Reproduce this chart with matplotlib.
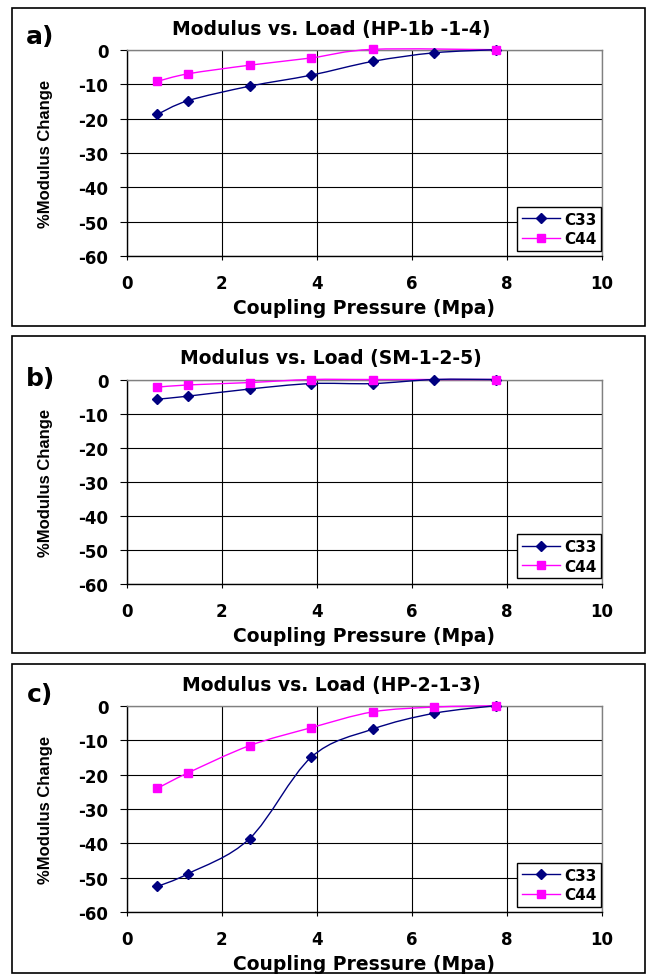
import numpy as np
import matplotlib
matplotlib.use('Agg')
import matplotlib.pyplot as plt
from matplotlib.path import Path
from matplotlib.patches import PathPatch, Rectangle
from matplotlib.lines import Line2D

# ---------------- data ----------------
pressure = [0.647, 1.294, 2.588, 3.882, 5.176, 6.47, 7.765]
pressure_c44_ab = [0.647, 1.294, 2.588, 3.882, 5.176, 7.765]

a_c33 = [-18.8, -14.8, -10.6, -7.4, -3.4, -0.9, 0.0]
a_c44 = [-9.2, -7.0, -4.5, -2.4, 0.1, 0.0]
b_c33 = [-5.8, -4.9, -2.8, -1.2, -1.2, 0.0, 0.0]
b_c44 = [-2.25, -1.6, -0.9, 0.0, 0.0, 0.0]
c_c33 = [-52.5, -48.8, -38.6, -15.0, -6.8, -2.2, 0.0]
c_c44 = [-24.0, -19.5, -11.6, -6.4, -1.8, -0.4, 0.0]

titles = ['Modulus vs. Load (HP-1b -1-4)', 'Modulus vs. Load (SM-1-2-5)',
          'Modulus vs. Load (HP-2-1-3)']
panel_labels = ['a)', 'b)', 'c)']
series_names = ['C33', 'C44']
x_ticks = [0, 2, 4, 6, 8, 10]
y_ticks = [-60, -50, -40, -30, -20, -10, 0]
x_label = 'Coupling Pressure (Mpa)'
y_label = '%Modulus Change'

panels = [
    (pressure, a_c33, pressure_c44_ab, a_c44),
    (pressure, b_c33, pressure_c44_ab, b_c44),
    (pressure, c_c33, pressure, c_c44),
]

# ---------------- style ----------------
W, H = 649, 978
C33_COLOR = '#000080'
C44_COLOR = '#FF00FF'
BOLD = dict(family='DejaVu Sans', weight='bold')

# geometry in pixels (top-left origin)
ax_left, ax_right = 126.5, 602.0
ax_rows = [(50.7, 257.3), (380.5, 584.5), (706.7, 913.3)]
box_rows = [(9, 327), (337, 654), (665, 974)]
title_y = [30, 359, 686]
label_y = [37, 379, 695]


def fx(px):
    return px / W


def fy(py):
    return 1 - py / H


def smooth_path(x, y):
    pts = np.column_stack([x, y]).astype(float)
    n = len(pts)
    verts = [pts[0]]
    codes = [Path.MOVETO]
    for i in range(n - 1):
        p0 = pts[i - 1] if i > 0 else pts[i]
        p1 = pts[i]
        p2 = pts[i + 1]
        p3 = pts[i + 2] if i + 2 < n else pts[i + 1]
        c1 = p1 + (p2 - p0) / 6.0
        c2 = p2 - (p3 - p1) / 6.0
        verts += [c1, c2, p2]
        codes += [Path.CURVE4] * 3
    return Path(verts, codes)


fig = plt.figure(figsize=(W / 100, H / 100), dpi=100)
fig.patch.set_facecolor('white')

for k, (x33, y33, x44, y44) in enumerate(panels):
    top, bot = ax_rows[k]
    ax = fig.add_axes([fx(ax_left), fy(bot), fx(ax_right - ax_left), (bot - top) / H])
    ax.set_xlim(0, 10)
    ax.set_ylim(-60, 0)
    ax.set_xticks(x_ticks)
    ax.set_yticks(y_ticks)
    ax.set_xticklabels([str(v) for v in x_ticks], fontsize=12, **BOLD)
    ax.set_yticklabels([str(v) for v in y_ticks], fontsize=12, **BOLD)
    ax.tick_params(axis='y', direction='out', length=5, width=0.8, pad=8, colors='black')
    ax.tick_params(axis='x', direction='out', length=3, width=0.8, pad=10, colors='black')
    ax.set_axisbelow(True)
    ax.grid(True, color='black', linewidth=0.8)
    for side in ('top', 'right'):
        ax.spines[side].set_color('#808080')
        ax.spines[side].set_linewidth(1.0)
    for side in ('left', 'bottom'):
        ax.spines[side].set_color('black')
        ax.spines[side].set_linewidth(1.0)

    # smoothed lines
    for xs, ys, col in ((x44, y44, C44_COLOR), (x33, y33, C33_COLOR)):
        patch = PathPatch(smooth_path(xs, ys), facecolor='none', edgecolor=col,
                          linewidth=1.0, zorder=3, clip_on=False)
        ax.add_patch(patch)
    ax.plot(x33, y33, linestyle='none', marker='D', markersize=5.5,
            color=C33_COLOR, zorder=4, clip_on=False)
    ax.plot(x44, y44, linestyle='none', marker='s', markersize=6,
            color=C44_COLOR, zorder=4, clip_on=False)

    handles = [
        Line2D([], [], color=C33_COLOR, lw=1.0, marker='D', markersize=5.5),
        Line2D([], [], color=C44_COLOR, lw=1.0, marker='s', markersize=6),
    ]
    leg = ax.legend(handles, series_names, loc='lower right',
                    bbox_to_anchor=(0.998, 0.026), borderaxespad=0,
                    prop=dict(family='DejaVu Sans', weight='bold', size=11),
                    handlelength=2.5, handletextpad=0.25, borderpad=0.3,
                    labelspacing=0.3, fancybox=False, framealpha=1,
                    edgecolor='black')
    leg.get_frame().set_linewidth(1.0)

    # panel frame
    bt, bb = box_rows[k]
    fig.add_artist(Rectangle((fx(12), fy(bb)), fx(645 - 12), (bb - bt) / H,
                             transform=fig.transFigure, fill=False,
                             edgecolor='black', linewidth=1.2))

    fig.text(fx(331), fy(title_y[k]), titles[k], ha='center', va='center',
             fontsize=13.5, **BOLD)
    fig.text(fx(40), fy(label_y[k]), panel_labels[k], ha='center', va='center',
             fontsize=18, **BOLD)
    fig.text(fx(45.5), fy((top + bot) / 2), y_label, rotation=90,
             ha='center', va='center', fontsize=12,
             family='Liberation Sans', weight='bold')
    fig.text(fx((ax_left + ax_right) / 2), fy(bot + 51.5), x_label,
             ha='center', va='center', fontsize=13.5, **BOLD)

fig.savefig('out.png', dpi=100)
